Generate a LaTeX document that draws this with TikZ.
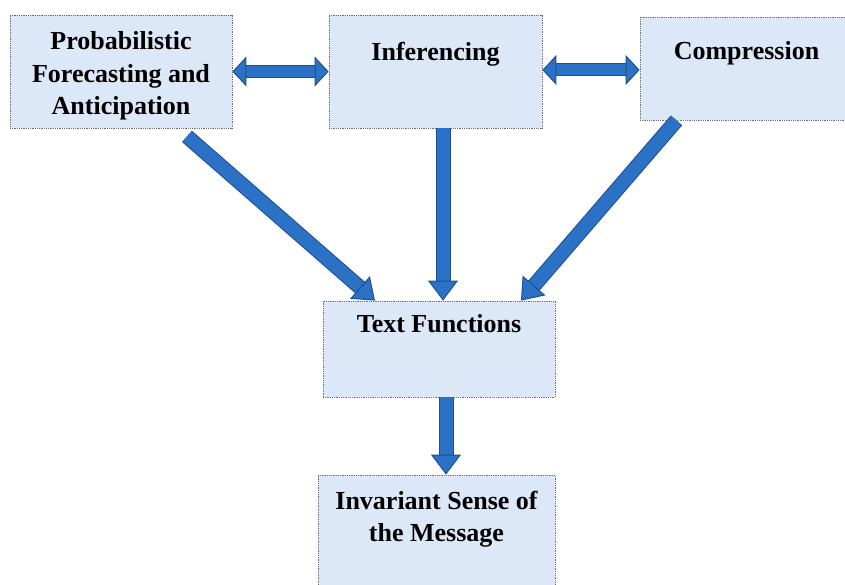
\documentclass[tikz,border=0pt]{standalone}
\usepackage{fontspec}
\setmainfont{Liberation Serif}
\usetikzlibrary{arrows.meta,calc}
\definecolor{BoxFill}{HTML}{DCE7F8}
\definecolor{BoxLine}{HTML}{6E6E6E}
\definecolor{FlowBlue}{HTML}{2B72C6}
\definecolor{FlowDark}{HTML}{1F4F8C}

\tikzset{
  box/.style={draw=BoxLine, densely dotted, line width=0.8pt, fill=BoxFill, inner sep=0pt},
  lbl/.style={font=\fontsize{26}{32.5}\selectfont\bfseries, align=center, anchor=north, inner sep=0pt},
  flowtip/.tip={Triangle[width=30pt,length=20pt,line width=1pt,color=FlowDark,fill=FlowBlue]},
  flow/.style={FlowBlue, line width=13pt, -flowtip,
    preaction={draw=FlowDark, line width=15pt, -, shorten >=19pt}},
  dtip/.tip={Triangle[width=30pt,length=14pt,line width=1pt,color=FlowDark,fill=FlowBlue]},
  dflow/.style={FlowBlue, line width=11pt, dtip-dtip,
    preaction={draw=FlowDark, line width=13pt, -, shorten >=13pt, shorten <=13pt}}
}

\begin{document}
\begin{tikzpicture}[x=1pt, y=-1pt]
  \useasboundingbox (0,0) rectangle (845,585);
  \begin{scope}
    \clip (0,0) rectangle (845,585);
    % boxes
    \node[box, minimum width=222pt, minimum height=113pt] (prob)   at (121,71.5)  {};
    \node[box, minimum width=213pt, minimum height=113pt] (infer)  at (435.5,71.5) {};
    \node[box, minimum width=213pt, minimum height=103pt] (compr)  at (746.5,68.5) {};
    \node[box, minimum width=232pt, minimum height=96pt]  (textfn) at (439,349)   {};
    \node[box, minimum width=237pt, minimum height=130pt] (invar)  at (436.5,540) {};
  \end{scope}

  % labels
  \node[lbl, below=17pt] (probtxt)   at (prob.north)   {Probabilistic\\Forecasting and\\Anticipation};
  \node[lbl, below=27pt] (infertxt)  at (infer.north)  {Inferencing};
  \node[lbl, below=25pt] (comprtxt)  at (compr.north)  {Compression};
  \node[lbl, below=14pt] (textfntxt) at (textfn.north) {Text Functions};
  \node[lbl, below=16pt] (invartxt)  at (invar.north)  {Invariant Sense of\\the Message};

  % connectors
  \draw[dflow] (prob.east) -- (prob.east -| infer.west);
  \draw[dflow] ([yshift=1.5pt]infer.east) -- ([yshift=1.5pt]infer.east -| compr.west);
  \draw[flow] ([xshift=66pt,yshift=-8pt]prob.south) -- ([xshift=-64pt]textfn.north);
  \draw[flow] ([xshift=7.5pt]infer.south) -- ([xshift=7.5pt]infer.south |- textfn.north);
  \draw[flow] ([xshift=-70pt]compr.south) -- ([xshift=82pt]textfn.north);
  \draw[flow] ([xshift=7pt]textfn.south) -- ([xshift=7pt]textfn.south |- invar.north);
\end{tikzpicture}
\end{document}
